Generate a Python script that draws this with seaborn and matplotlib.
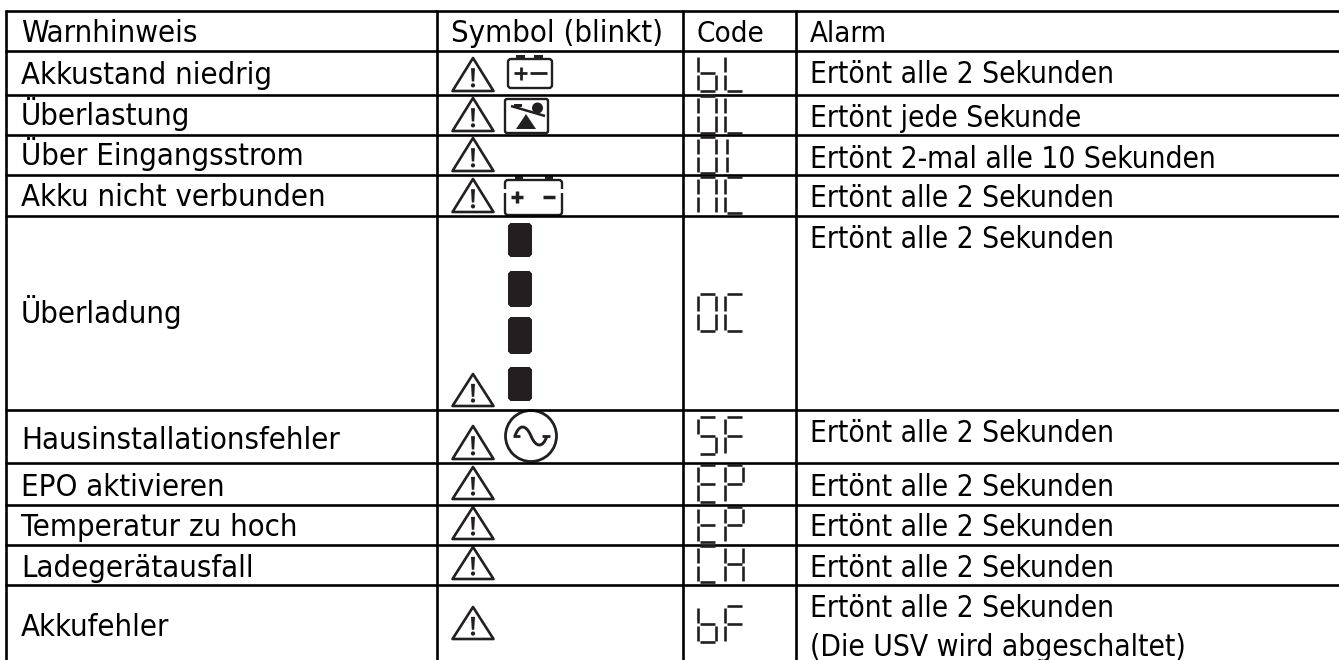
import matplotlib.pyplot as plt
import numpy as np
import pandas as pd
import seaborn as sns
from matplotlib.patches import Circle, FancyBboxPatch, PathPatch, Polygon, Rectangle
from matplotlib.path import Path

# table content
headers = ['Warnhinweis', 'Symbol (blinkt)', 'Code', 'Alarm']
warnings = ['Akkustand niedrig', 'Überlastung', 'Über Eingangsstrom', 'Akku nicht verbunden',
            'Überladung', 'Hausinstallationsfehler', 'EPO aktivieren', 'Temperatur zu hoch',
            'Ladegerätausfall', 'Akkufehler']
icons = ['battery', 'overload', None, 'battery_open', 'bars', 'ac', None, None, None, None]
codes = ['bL', 'OL', 'OI', 'nC', 'OC', 'SF', 'EP', 'tP', 'CH', 'bF']
alarms = ['Ertönt alle 2 Sekunden', 'Ertönt jede Sekunde', 'Ertönt 2-mal alle 10 Sekunden',
          'Ertönt alle 2 Sekunden', 'Ertönt alle 2 Sekunden', 'Ertönt alle 2 Sekunden',
          'Ertönt alle 2 Sekunden', 'Ertönt alle 2 Sekunden', 'Ertönt alle 2 Sekunden',
          'Ertönt alle 2 Sekunden\n(Die USV wird abgeschaltet)']

# layout in pixels of the picture
col_edges = [6, 437, 683, 796]
row_edges = [11, 51, 95, 135, 175, 216, 410, 463, 505, 545, 585]
text_x = [21, 451, 697, 810]
warn_base = [84, 125, 165, 206, 323, 449, 496, 536, 577, 636]
alarm_base = [83, 127, 168, 207, 248, 442, 496, 536, 577, 617]
header_base = 42
header_size = [22.3, 22.3, 21.2, 21.0]
warn_size = 22.2
alarm_size = 21.4
code_top = [55, 96, 137, 177, 294, 417, 465, 507, 546, 606]
code_bot = [91, 133, 173, 213, 331, 454, 502, 542, 582, 642]
tri_top = [57, 97, 137, 178, 373, 425, 466, 506, 546, 606]
tri_bot = [92, 132, 172, 213, 407, 460, 500, 540, 580, 640]
bars = [(223, 257), (271, 307), (317, 354), (367, 401)]

segments = {'b': 'fegcd', 'L': 'fed', 'O': 'abcdef', 'I': 'fe', 'n': 'abcef', 'C': 'afed',
            'S': 'afgcd', 'F': 'afge', 'E': 'afged', 'P': 'abfge', 't': 'fegd', 'H': 'fbgec'}

ink = '#000000'
dark = '#231f20'
sns.set_theme(style='white')
plt.rcParams['font.family'] = ['DejaVu Sans']
plt.rcParams['lines.solid_capstyle'] = 'butt'

fig = plt.figure(figsize=(13.39, 6.6), dpi=100)
ax = fig.add_axes([0, 0, 1, 1])


def seg_lines(ch, x0, x1, top, bot):
    mid = (top + bot) / 2
    g = 1.5
    ends = {'a': [(x0 + g, top), (x1 - g, top)], 'd': [(x0 + g, bot), (x1 - g, bot)],
            'g': [(x0 + g, mid), (x1 - g, mid)],
            'f': [(x0, top + g), (x0, mid - g)], 'e': [(x0, mid + g), (x0, bot - g)],
            'b': [(x1, top + g), (x1, mid - g)], 'c': [(x1, mid + g), (x1, bot - g)]}
    return [ends[s] for s in segments[ch]]


# rules of the table
rows = []
n = 0
for y in row_edges:
    rows += [(n, 5, y), (n, 1339, y)]
    n += 1
for x in col_edges:
    rows += [(n, x, 10), (n, x, 660)]
    n += 1
rules = pd.DataFrame(rows, columns=['rule', 'x', 'y'])
sns.lineplot(data=rules, x='x', y='y', units='rule', estimator=None, sort=False,
             color='black', linewidth=1.9, ax=ax)

# seven segment codes
rows = []
n = 0
for code, top, bot in zip(codes, code_top, code_bot):
    for ch, (x0, x1) in zip(code, [(698, 716), (725, 743)]):
        if ch == 'I':
            x0, x1 = 727, 743
        for (a, b) in seg_lines(ch, x0, x1, top, bot):
            rows += [(n, a[0], a[1]), (n, b[0], b[1])]
            n += 1
lcd = pd.DataFrame(rows, columns=['seg', 'x', 'y'])
sns.lineplot(data=lcd, x='x', y='y', units='seg', estimator=None, sort=False,
             color=dark, linewidth=1.9, ax=ax)


def warning(top, bot):
    ax.add_patch(Polygon([(473, top + 1), (452.5, bot - 1), (493.5, bot - 1)], closed=True,
                         fc='white', ec=dark, lw=1.9, joinstyle='round'))
    h = bot - top
    ax.add_patch(Polygon([(471, top + 0.32 * h), (475, top + 0.32 * h),
                          (474.2, top + 0.70 * h), (471.8, top + 0.70 * h)], fc=dark, ec='none'))
    ax.add_patch(Circle((473, top + 0.81 * h), 2.1, fc=dark, ec='none'))


def box(x0, y0, x1, y1, r=3):
    ax.add_patch(FancyBboxPatch((x0 + r, y0 + r), x1 - x0 - 2 * r, y1 - y0 - 2 * r,
                                boxstyle=f'round,pad={r}', fc='white', ec=dark, lw=1.7))


def stroke(x0, y0, x1, y1, lw=2.0):
    ax.plot([x0, x1], [y0, y1], color=dark, lw=lw, solid_capstyle='butt')


def draw_icon(kind):
    if kind == 'battery':
        box(508, 59, 552, 88)
        for x in [516, 534]:
            ax.add_patch(Rectangle((x, 55), 9, 4, fc=dark, ec='none'))
        stroke(514, 73, 527, 73)
        stroke(520.5, 66.5, 520.5, 79.5)
        stroke(530, 73, 547, 73)
    elif kind == 'overload':
        box(505, 99, 548, 133, r=2)
        ax.add_patch(Polygon([(526, 114), (516, 129), (536, 129)], fc=dark, ec='none'))
        stroke(511, 106, 545, 116, lw=1.8)
        ax.add_patch(Circle((537.5, 108), 5.5, fc=dark, ec='none'))
        ax.add_patch(Rectangle((514, 103.5), 8, 3.5, fc=dark, ec='none'))
    elif kind == 'battery_open':
        box(505, 180, 562, 215)
        for x in [515, 545]:
            ax.add_patch(Rectangle((x, 175), 8, 5, fc=dark, ec='none'))
        ax.add_patch(Rectangle((503, 189), 4, 4, fc='white', ec='none'))
        ax.add_patch(Rectangle((560, 189), 4, 4, fc='white', ec='none'))
        stroke(511, 197, 523, 197, lw=2.5)
        stroke(517, 191, 517, 203, lw=2.5)
        stroke(543, 197, 555, 197, lw=2.5)
    elif kind == 'bars':
        for top, bot in bars:
            c = 2.5
            ax.add_patch(Polygon([(508 + c, top), (532 - c, top), (532, top + c), (532, bot - c),
                                  (532 - c, bot), (508 + c, bot), (508, bot - c), (508, top + c)],
                                 fc=dark, ec='none'))
    elif kind == 'ac':
        ax.add_patch(Circle((531, 436), 25.5, fc='white', ec=dark, lw=2.0))
        verts = [(515, 436), (519, 424), (526, 424), (531, 436), (536, 448), (543, 448), (547, 436)]
        ax.add_patch(PathPatch(Path(verts, [Path.MOVETO] + [Path.CURVE4] * 6), fc='none', ec=dark, lw=2.1))
        stroke(513, 436, 520, 436)
        stroke(542, 436, 550, 436)


font = dict(fontfamily='DejaVu Sans', stretch='condensed', color=ink, va='baseline')

for x, label, size in zip(text_x, headers, header_size):
    ax.text(x, header_base, label, fontsize=size, **font)

for i in range(len(warnings)):
    ax.text(text_x[0], warn_base[i], warnings[i], fontsize=warn_size, **font)
    parts = alarms[i].split('\n')
    ax.text(text_x[3], alarm_base[i], parts[0], fontsize=alarm_size, **font)
    if len(parts) > 1:
        ax.text(text_x[3], alarm_base[i] + 39, parts[1], fontsize=alarm_size, **font)
    warning(tri_top[i], tri_bot[i])
    draw_icon(icons[i])

ax.set_xlim(0, 1339)
ax.set_ylim(660, 0)
ax.set_xlabel('')
ax.set_ylabel('')
ax.axis('off')
fig.savefig('out.png', dpi=100, facecolor='white')
